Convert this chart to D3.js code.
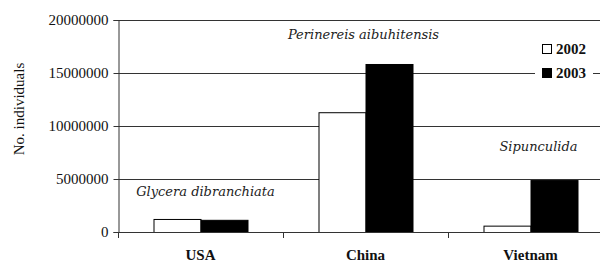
<!DOCTYPE html>
<html>
<head>
<meta charset="utf-8">
<script src="https://cdn.jsdelivr.net/npm/d3@7"></script>
<style>
  body { margin: 0; background: #fff; }
  svg { display: block; }
</style>
</head>
<body>
<div id="chart"></div>
<script>
const countries = ["USA", "China", "Vietnam"];
const years = ["2002", "2003"];
const values2002 = [1230000, 11300000, 600000];
const values2003 = [1150000, 15850000, 4900000];
const species = ["Glycera dibranchiata", "Perinereis aibuhitensis", "Sipunculida"];
const speciesLevel = [3400000, 18200000, 7600000];
const yTicks = [0, 5000000, 10000000, 15000000, 20000000];

const serif = '"Liberation Serif", "Times New Roman", serif';
const width = 600;
const height = 263;
const margin = { top: 20, right: -13, bottom: 31, left: 118 };

const svg = d3.select("#chart")
  .append("svg")
  .attr("width", width)
  .attr("height", height);

const xScale = d3.scaleBand()
  .domain(countries)
  .range([margin.left, width - margin.right]);

const xInner = d3.scaleBand()
  .domain(years)
  .range([0, 94]);

const yScale = d3.scaleLinear()
  .domain([0, 20000000])
  .range([height - margin.bottom, margin.top]);

// gridlines
svg.append("g")
  .selectAll("line")
  .data(yTicks.slice(1))
  .join("line")
  .attr("x1", margin.left)
  .attr("x2", width)
  .attr("y1", d => yScale(d) + 0.5)
  .attr("y2", d => yScale(d) + 0.5)
  .attr("stroke", "#333");

// bars
const rows = countries.map((c, i) => ({ country: c, values: [values2002[i], values2003[i]] }));
const groups = svg.append("g")
  .selectAll("g")
  .data(rows)
  .join("g")
  .attr("transform", d => `translate(${xScale(d.country) + (xScale.bandwidth() - 94) / 2},0)`);

groups.selectAll("rect")
  .data(d => d.values.map((v, j) => ({ year: years[j], value: v })))
  .join("rect")
  .attr("x", d => xInner(d.year) + 0.5)
  .attr("y", d => yScale(d.value) + 0.5)
  .attr("width", xInner.bandwidth())
  .attr("height", d => yScale(0) - yScale(d.value))
  .attr("fill", d => d.year === "2002" ? "#fff" : "#000")
  .attr("stroke", "#000");

// y axis
const yAxis = svg.append("g")
  .attr("transform", `translate(${margin.left + 0.5},0)`)
  .call(d3.axisLeft(yScale).tickValues(yTicks).tickSize(5).tickPadding(5).tickFormat(d3.format("d")));
yAxis.select(".domain").attr("stroke", "#333");
yAxis.selectAll(".tick line").attr("stroke", "#333");
yAxis.selectAll("text")
  .style("font-family", serif)
  .style("font-size", "15px")
  .attr("fill", "#111");

// x axis
const xAxis = svg.append("g")
  .attr("transform", `translate(0,${yScale(0) + 0.5})`)
  .call(d3.axisBottom(xScale).tickSize(0).tickPadding(17));
xAxis.select(".domain").attr("stroke", "#333").attr("d", `M${margin.left},0H${width}`);
xAxis.selectAll("text")
  .style("font-family", serif)
  .style("font-size", "15px")
  .style("font-weight", "bold")
  .attr("fill", "#111");

// category separators
svg.append("g")
  .selectAll("line")
  .data(countries)
  .join("line")
  .attr("x1", d => xScale(d) + 0.5)
  .attr("x2", d => xScale(d) + 0.5)
  .attr("y1", yScale(0))
  .attr("y2", yScale(0) + 6)
  .attr("stroke", "#333");

// axis title
svg.append("text")
  .attr("transform", `translate(24,109) rotate(-90)`)
  .attr("text-anchor", "middle")
  .style("font-family", serif)
  .style("font-size", "15px")
  .attr("fill", "#111")
  .text("No. individuals");

// species labels
svg.append("g")
  .selectAll("text")
  .data(species)
  .join("text")
  .attr("x", (d, i) => xScale(countries[i]) + xScale.bandwidth() / 2 + (i === 2 ? 8 : i === 0 ? 5 : -2))
  .attr("y", (d, i) => yScale(speciesLevel[i]))
  .attr("text-anchor", "middle")
  .style("font-family", '"DejaVu Serif", serif')
  .style("font-style", "italic")
  .style("font-size", "13px")
  .attr("fill", "#222")
  .text(d => d);

// legend
const legend = svg.append("g").attr("transform", "translate(535,36)");
legend.append("rect")
  .attr("width", 58)
  .attr("height", 48)
  .attr("fill", "#fff");
const items = legend.selectAll("g")
  .data(years)
  .join("g")
  .attr("transform", (d, i) => `translate(7,${8 + i * 24})`);
items.append("rect")
  .attr("x", 0.5)
  .attr("y", 0.5)
  .attr("width", 9)
  .attr("height", 9)
  .attr("fill", d => d === "2002" ? "#fff" : "#000")
  .attr("stroke", "#000");
items.append("text")
  .attr("x", 14)
  .attr("y", 5)
  .attr("dy", "0.35em")
  .style("font-family", serif)
  .style("font-size", "15px")
  .style("font-weight", "bold")
  .attr("fill", "#111")
  .text(d => d);
</script>
</body>
</html>
